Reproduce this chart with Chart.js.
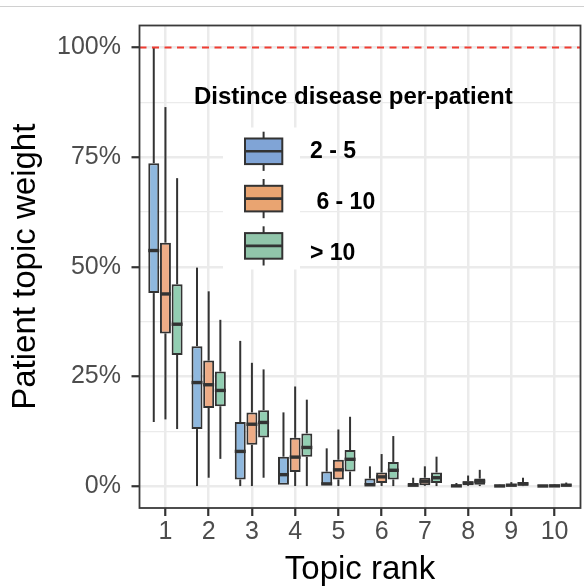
<!DOCTYPE html>
<html><head><meta charset="utf-8">
<script src="https://cdn.jsdelivr.net/npm/chart.js@4/dist/chart.umd.min.js"></script>
<style>html,body{margin:0;padding:0;background:#fff}canvas{display:block}</style>
</head><body>
<canvas id="c" width="584" height="588"></canvas>
<script>
// ---------- data ----------
const topicRanks = [1,2,3,4,5,6,7,8,9,10];
const seriesNames = ['2 - 5', ' 6 - 10', '> 10'];
const legendTitle = 'Distince disease per-patient';
const xTitle = 'Topic rank';
const yTitle = 'Patient topic weight';
const yGridValues = [0,12.5,25,37.5,50,62.5,75,87.5,100];
const refLineValue = 100;

// 2 - 5 diseases (percent)
const blueMin = [14.6, 0,    0,    0,   0,   0,   0,   0,    0,    0];
const blueQ1  = [44.0, 13.0, 1.5,  0,   0,   0,   0,   0,    0,    0];
const blueMed = [53.7, 23.6, 7.9,  2.6, 0.5, 0.3, 0.2, 0.05, 0.03, 0.02];
const blueQ3  = [73.6, 31.9, 14.6, 6.7, 3.3, 1.7, 0.7, 0.25, 0.1,  0.05];
const blueMax = [100,  49.8, 33.1, 16.8,8.6, 4.5, 1.9, 0.7,  0.3,  0.15];
// 6 - 10 diseases
const orangeMin = [15.2, 1.9,  0,    0,    0,    0,   0,   0,   0,    0];
const orangeQ1  = [34.8, 17.8, 9.4,  3.2,  1.5,  0.7, 0.2, 0.2, 0.05, 0];
const orangeMed = [43.8, 23.1, 14.1, 6.6,  3.7,  2.1, 1.1, 0.7, 0.2,  0.05];
const orangeQ3  = [55.5, 28.6, 16.8, 11.0, 6.0,  3.1, 1.9, 1.1, 0.4,  0.15];
const orangeMax = [86.4, 44.4, 28.1, 22.7, 12.9, 7.3, 4.5, 2.4, 0.9,  0.35];
// > 10 diseases
const greenMin = [13.0, 6.2,  1.9,  0,    0,    0,    0,   0,   0,   0];
const greenQ1  = [29.9, 18.2, 11.1, 6.7,  3.3,  1.5,  0.7, 0.3, 0.1, 0.05];
const greenMed = [36.9, 21.8, 14.5, 8.8,  6.1,  3.6,  1.9, 1.1, 0.5, 0.2];
const greenQ3  = [46.0, 26.1, 17.3, 12.0, 8.2,  5.5,  3.1, 1.7, 0.9, 0.4];
const greenMax = [70.2, 37.9, 26.6, 19.7, 15.8, 11.4, 6.7, 3.7, 1.9, 0.8];

// ---------- styles ----------
const FONT = "'Liberation Sans', Arial, Helvetica, sans-serif";
const boxColors = ['rgb(143,184,222)', 'rgb(238,172,134)', 'rgb(146,206,178)'];
const legendColors = ['rgb(128,164,214)', 'rgb(233,164,113)', 'rgb(145,197,170)'];
const LINE = '#333333';

const stats = [
  {min: blueMin, q1: blueQ1, med: blueMed, q3: blueQ3, max: blueMax},
  {min: orangeMin, q1: orangeQ1, med: orangeMed, q3: orangeQ3, max: orangeMax},
  {min: greenMin, q1: greenQ1, med: greenMed, q3: greenQ3, max: greenMax}
];

const datasets = stats.map((s, i) => ({
  label: seriesNames[i],
  data: topicRanks.map((r, j) => ({x: r, y: [s.q1[j], s.q3[j]]})),
  backgroundColor: boxColors[i],
  borderColor: LINE,
  borderWidth: 2,
  borderSkipped: false,
  categoryPercentage: 0.81,
  barPercentage: 0.94
}));

function line(ctx, x1, y1, x2, y2) {
  ctx.beginPath(); ctx.moveTo(x1, y1); ctx.lineTo(x2, y2); ctx.stroke();
}

const boxPlugin = {
  id: 'boxParts',
  beforeDraw(chart) {
    const ctx = chart.ctx;
    ctx.save();
    ctx.strokeStyle = '#d0d0d0'; ctx.lineWidth = 1;
    line(ctx, 0, 6.5, chart.width, 6.5);
    ctx.restore();
  },
  beforeDatasetsDraw(chart) {
    const ctx = chart.ctx, ys = chart.scales.y;
    ctx.save();
    ctx.strokeStyle = LINE; ctx.lineWidth = 2;
    stats.forEach((s, di) => {
      chart.getDatasetMeta(di).data.forEach((bar, j) => {
        line(ctx, bar.x, ys.getPixelForValue(s.q3[j]), bar.x, ys.getPixelForValue(s.max[j]));
        line(ctx, bar.x, ys.getPixelForValue(s.q1[j]), bar.x, ys.getPixelForValue(s.min[j]));
      });
    });
    ctx.restore();
  },
  afterDatasetsDraw(chart) {
    const ctx = chart.ctx, ys = chart.scales.y, a = chart.chartArea;
    ctx.save();
    ctx.strokeStyle = LINE; ctx.lineWidth = 3.4;
    stats.forEach((s, di) => {
      chart.getDatasetMeta(di).data.forEach((bar, j) => {
        const y = ys.getPixelForValue(s.med[j]);
        line(ctx, bar.x - bar.width / 2, y, bar.x + bar.width / 2, y);
      });
    });
    // reference line
    ctx.strokeStyle = 'rgb(240,60,50)'; ctx.lineWidth = 2;
    ctx.setLineDash([7, 5.5]);
    const yr = ys.getPixelForValue(refLineValue);
    line(ctx, a.left, yr, a.right, yr);
    ctx.setLineDash([]);
    // panel border
    ctx.strokeStyle = '#3a3a3a'; ctx.lineWidth = 1.8;
    ctx.strokeRect(a.left, a.top, a.right - a.left, a.bottom - a.top);
    ctx.restore();
  },
  afterDraw(chart) {
    const ctx = chart.ctx;
    ctx.save();
    ctx.fillStyle = '#fff';
    ctx.fillRect(223, 127.5, 77, 142);
    ctx.fillStyle = '#000';
    ctx.font = 'bold 24px ' + FONT;
    ctx.textAlign = 'left'; ctx.textBaseline = 'alphabetic';
    ctx.fillText(legendTitle, 194, 103.5);
    ctx.font = 'bold 23px ' + FONT;
    const labelBase = [158, 208.5, 259.5];
    seriesNames.forEach((name, i) => {
      const cy = 151.3 + i * 47.3;
      ctx.strokeStyle = LINE; ctx.lineWidth = 2;
      line(ctx, 263.6, cy - 19.6, 263.6, cy + 19.6);
      ctx.fillStyle = legendColors[i];
      ctx.fillRect(245, cy - 12.8, 37.3, 25.6);
      ctx.strokeRect(245, cy - 12.8, 37.3, 25.6);
      ctx.lineWidth = 2.6;
      line(ctx, 245, cy, 282.3, cy);
      ctx.fillStyle = '#000';
      ctx.fillText(name, 310, labelBase[i]);
    });
    ctx.restore();
  }
};

new Chart(document.getElementById('c'), {
  type: 'bar',
  data: {datasets},
  plugins: [boxPlugin],
  options: {
    responsive: false,
    animation: false,
    layout: {padding: {top: 23, right: 3.5, left: 0, bottom: 0}},
    plugins: {legend: {display: false}, tooltip: {enabled: false}},
    scales: {
      x: {
        type: 'linear', min: 0.4, max: 10.6, offset: false,
        afterBuildTicks: s => { s.ticks = topicRanks.map(v => ({value: v})); },
        afterFit: s => { s.height = 80; },
        grid: {offset: false, color: '#EBEBEB', lineWidth: 2.5, tickColor: LINE, tickWidth: 2.2, tickLength: 8},
        border: {display: false},
        ticks: {font: {family: FONT, size: 25}, color: '#4D4D4D', padding: 1.5, autoSkip: false, maxRotation: 0,
                callback: v => String(v)},
        title: {display: true, text: xTitle, font: {family: FONT, size: 33, lineHeight: 1}, color: '#000', padding: {top: 0, bottom: 1.8}}
      },
      y: {
        min: -5, max: 105,
        afterBuildTicks: s => { s.ticks = yGridValues.map(v => ({value: v})); },
        afterFit: s => { s.width = 139.5; },
        grid: {
          color: '#EBEBEB',
          lineWidth: c => (c.tick && c.tick.value % 25 === 0) ? 2.5 : 1.2,
          tickColor: c => (c.tick && c.tick.value % 25 === 0) ? LINE : 'rgba(0,0,0,0)',
          tickWidth: 2.2, tickLength: 8
        },
        border: {display: false},
        ticks: {font: {family: FONT, size: 25}, color: '#4D4D4D', padding: 10.5, autoSkip: false,
                callback: v => (v % 25 === 0 ? v + '%' : '')},
        title: {display: true, text: yTitle, font: {family: FONT, size: 33, lineHeight: 1}, color: '#000', padding: {top: 9.8, bottom: 0}}
      }
    }
  }
});
</script>
</body></html>
